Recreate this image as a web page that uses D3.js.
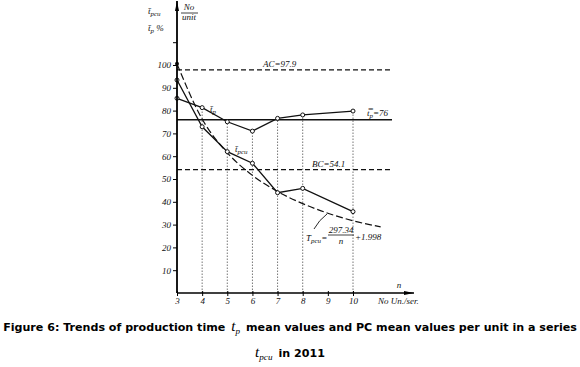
<!DOCTYPE html>
<html>
<head>
<meta charset="utf-8">
<script src="https://cdn.jsdelivr.net/npm/d3@7/dist/d3.min.js"></script>
<style>
  body { margin: 0; background: #fff; }
  .lab { font-family: "Liberation Serif", serif; font-style: italic; font-size: 9px; fill: #111; }
</style>
</head>
<body>
<div id="chart"></div>
<script>
// values
const unitsPerSeries = [3, 4, 5, 6, 7, 8, 10];
const tpMeans = [85.4, 81.3, 75.1, 71.0, 76.6, 78.1, 79.8];
const tpcuMeans = [93.4, 72.9, 62.0, 56.9, 44.0, 45.9, 35.7];
// dashed trend curve, read at each n
const trendN = [3, 4, 5, 6, 7, 8, 9, 10, 11.1];
const trendValues = [100.5, 76.3, 61.5, 51.6, 44.5, 39.2, 35.0, 31.7, 29.0];
const xTickValues = [3, 4, 5, 6, 7, 8, 9, 10];
const yTickValues = [10, 20, 30, 40, 50, 60, 70, 80, 90, 100, 110];
const acLevel = 97.9;
const bcLevel = 54.1;
const tpOverall = 76;

const width = 580, height = 367;

const svg = d3.select("#chart")
  .append("svg")
  .attr("width", width)
  .attr("height", height);

const x = d3.scaleLinear().domain([3, 10]).range([177, 353]);
const y = d3.scaleLinear().domain([0, 100]).range([293, 65]);

// arrow heads
const defs = svg.append("defs");
defs.append("marker")
  .attr("id", "arrow")
  .attr("viewBox", "0 0 10 4")
  .attr("refX", 10).attr("refY", 2)
  .attr("markerWidth", 10).attr("markerHeight", 4)
  .attr("markerUnits", "userSpaceOnUse")
  .attr("orient", "auto")
  .append("path")
  .attr("d", "M0,0 L10,2 L0,4 Z")
  .attr("fill", "#000");

// vertical dotted guides, axis up to the t_p point
svg.append("g").selectAll("line")
  .data(unitsPerSeries.slice(1))
  .enter().append("line")
  .attr("x1", d => x(d)).attr("x2", d => x(d))
  .attr("y1", y(0))
  .attr("y2", (d, i) => y(tpMeans[i + 1]))
  .attr("stroke", "#666")
  .attr("stroke-width", 0.9)
  .attr("stroke-dasharray", "1.5,1.5");

// reference lines
const refEnd = 392;
svg.append("line")
  .attr("x1", x(3)).attr("x2", refEnd)
  .attr("y1", y(acLevel)).attr("y2", y(acLevel))
  .attr("stroke", "#111").attr("stroke-width", 1.3)
  .attr("stroke-dasharray", "5,3");
svg.append("line")
  .attr("x1", x(3)).attr("x2", refEnd)
  .attr("y1", y(bcLevel)).attr("y2", y(bcLevel))
  .attr("stroke", "#111").attr("stroke-width", 1.3)
  .attr("stroke-dasharray", "5,3");
svg.append("line")
  .attr("x1", x(3)).attr("x2", refEnd)
  .attr("y1", y(tpOverall)).attr("y2", y(tpOverall))
  .attr("stroke", "#111").attr("stroke-width", 1.4);

// trend curve
const trendLine = d3.line()
  .x(d => x(d[0]))
  .y(d => y(d[1]))
  .curve(d3.curveMonotoneX);
svg.append("path")
  .datum(d3.zip(trendN, trendValues))
  .attr("d", trendLine)
  .attr("fill", "none")
  .attr("stroke", "#111")
  .attr("stroke-width", 1.2)
  .attr("stroke-dasharray", "7,3");

// the two mean series
const seriesLine = d3.line()
  .x(d => x(d[0]))
  .y(d => y(d[1]));

[tpMeans, tpcuMeans].forEach(vals => {
  const pts = d3.zip(unitsPerSeries, vals);
  svg.append("path")
    .datum(pts)
    .attr("d", seriesLine)
    .attr("fill", "none")
    .attr("stroke", "#111")
    .attr("stroke-width", 1.3);
  svg.append("g").selectAll("circle")
    .data(pts)
    .enter().append("circle")
    .attr("cx", d => x(d[0]))
    .attr("cy", d => y(d[1]))
    .attr("r", 2)
    .attr("fill", "#fff")
    .attr("stroke", "#111")
    .attr("stroke-width", 1);
});
svg.append("circle")
  .attr("cx", x(trendN[0])).attr("cy", y(trendValues[0]))
  .attr("r", 2).attr("fill", "#111");

// axes
const yAxis = d3.axisLeft(y)
  .tickValues(yTickValues)
  .tickSize(4)
  .tickPadding(2)
  .tickFormat(d => d <= 100 ? d : "");
const gy = svg.append("g")
  .attr("transform", `translate(${x(3)},0)`)
  .call(yAxis);
gy.select(".domain").remove();
gy.selectAll("text").attr("class", "lab").attr("font-family", null).attr("font-size", null);

const xAxis = d3.axisBottom(x)
  .tickValues(xTickValues)
  .tickSize(3)
  .tickPadding(2)
  .tickFormat(d3.format("d"));
const gx = svg.append("g")
  .attr("transform", `translate(0,${y(0)})`)
  .call(xAxis);
gx.select(".domain").remove();
gx.selectAll("text").attr("class", "lab").attr("font-family", null).attr("font-size", null);
gx.selectAll(".tick line").attr("y1", -2);

svg.append("line")
  .attr("x1", x(3)).attr("y1", y(0))
  .attr("x2", x(3)).attr("y2", 1)
  .attr("stroke", "#000").attr("stroke-width", 1.8)
  .attr("marker-end", "url(#arrow)");
svg.append("line")
  .attr("x1", x(3)).attr("y1", y(0))
  .attr("x2", 414).attr("y2", y(0))
  .attr("stroke", "#000").attr("stroke-width", 1.5)
  .attr("marker-end", "url(#arrow)");

// text helpers
function barred(sel, base, sub, bars) {
  sel.append("tspan").text(base + (bars === 2 ? "\u033F" : "\u0304"));
  if (sub) sel.append("tspan").attr("baseline-shift", "-25%").attr("font-size", "7px").text(sub);
  return sel;
}

// axis titles
barred(svg.append("text").attr("class", "lab").attr("x", 148).attr("y", 14), "t", "pcu");
barred(svg.append("text").attr("class", "lab").attr("x", 148).attr("y", 31), "t", "p").append("tspan").text(" %");
svg.append("text").attr("class", "lab").attr("x", 189).attr("y", 10).attr("text-anchor", "middle").text("No");
svg.append("line").attr("x1", 181).attr("x2", 198).attr("y1", 13).attr("y2", 13).attr("stroke", "#111").attr("stroke-width", 0.8);
svg.append("text").attr("class", "lab").attr("x", 189).attr("y", 20).attr("text-anchor", "middle").text("unit");
svg.append("text").attr("class", "lab").attr("x", 399).attr("y", 288).attr("text-anchor", "middle").text("n");
svg.append("text").attr("class", "lab").attr("x", 378).attr("y", 304).text("No Un./ser.");

// line labels
svg.append("text").attr("class", "lab").attr("x", 263).attr("y", 67).text("AC=" + acLevel);
svg.append("text").attr("class", "lab").attr("x", 312).attr("y", 167).text("BC=" + bcLevel);
barred(svg.append("text").attr("class", "lab").attr("x", 367).attr("y", 116), "t", "p", 2).append("tspan").attr("baseline-shift", "0").text("=" + tpOverall);
barred(svg.append("text").attr("class", "lab").attr("x", 210).attr("y", 112), "t", "p");
barred(svg.append("text").attr("class", "lab").attr("x", 235).attr("y", 152), "t", "pcu");

// trend formula with leader
svg.append("path")
  .attr("d", "M314,229 Q319,220 327,214")
  .attr("fill", "none").attr("stroke", "#111").attr("stroke-width", 0.9);
barred(svg.append("text").attr("class", "lab").attr("x", 306).attr("y", 241), "T", "pcu")
  .append("tspan").attr("baseline-shift", "0").text("=");
svg.append("text").attr("class", "lab").attr("x", 341).attr("y", 233).attr("text-anchor", "middle").text("297.34");
svg.append("line").attr("x1", 328).attr("x2", 354).attr("y1", 235).attr("y2", 235).attr("stroke", "#111").attr("stroke-width", 0.8);
svg.append("text").attr("class", "lab").attr("x", 341).attr("y", 244).attr("text-anchor", "middle").text("n");
svg.append("text").attr("class", "lab").attr("x", 355).attr("y", 240).text("+1.998");

// caption
const capFont = "'DejaVu Sans', sans-serif";
const cap1 = svg.append("text")
  .attr("x", width / 2).attr("y", 331)
  .attr("text-anchor", "middle")
  .attr("font-family", capFont).attr("font-weight", "bold").attr("font-size", "11px")
  .attr("fill", "#000");
cap1.append("tspan").text("Figure 6: Trends of production time");
cap1.append("tspan").attr("dx", 6).attr("font-family", "'Liberation Serif', serif").attr("font-style", "italic").attr("font-weight", "normal").attr("font-size", "15px").text("t");
cap1.append("tspan").attr("font-family", "'Liberation Serif', serif").attr("font-style", "italic").attr("font-weight", "normal").attr("font-size", "9px").attr("baseline-shift", "-30%").text("p");
cap1.append("tspan").attr("dx", 6).attr("baseline-shift", "0").text("mean values and PC mean values per unit in a series");

// fit line one to the page width
const w1 = cap1.node().getComputedTextLength();
const scale1 = 562 / w1;
cap1.selectAll("tspan").each(function() {
  const fs = parseFloat(d3.select(this).attr("font-size") || 11);
  d3.select(this).attr("font-size", (fs * scale1).toFixed(2) + "px");
});

const cap2 = svg.append("text")
  .attr("x", width / 2).attr("y", 357)
  .attr("text-anchor", "middle")
  .attr("font-family", capFont).attr("font-weight", "bold").attr("font-size", (11 * scale1).toFixed(2) + "px")
  .attr("fill", "#000");
cap2.append("tspan").attr("font-family", "'Liberation Serif', serif").attr("font-style", "italic").attr("font-weight", "normal").attr("font-size", (15 * scale1).toFixed(2) + "px").text("t");
cap2.append("tspan").attr("font-family", "'Liberation Serif', serif").attr("font-style", "italic").attr("font-weight", "normal").attr("font-size", (9 * scale1).toFixed(2) + "px").attr("baseline-shift", "-30%").text("pcu");
cap2.append("tspan").attr("dx", 6).attr("baseline-shift", "0").text("in 2011");
</script>
</body>
</html>
